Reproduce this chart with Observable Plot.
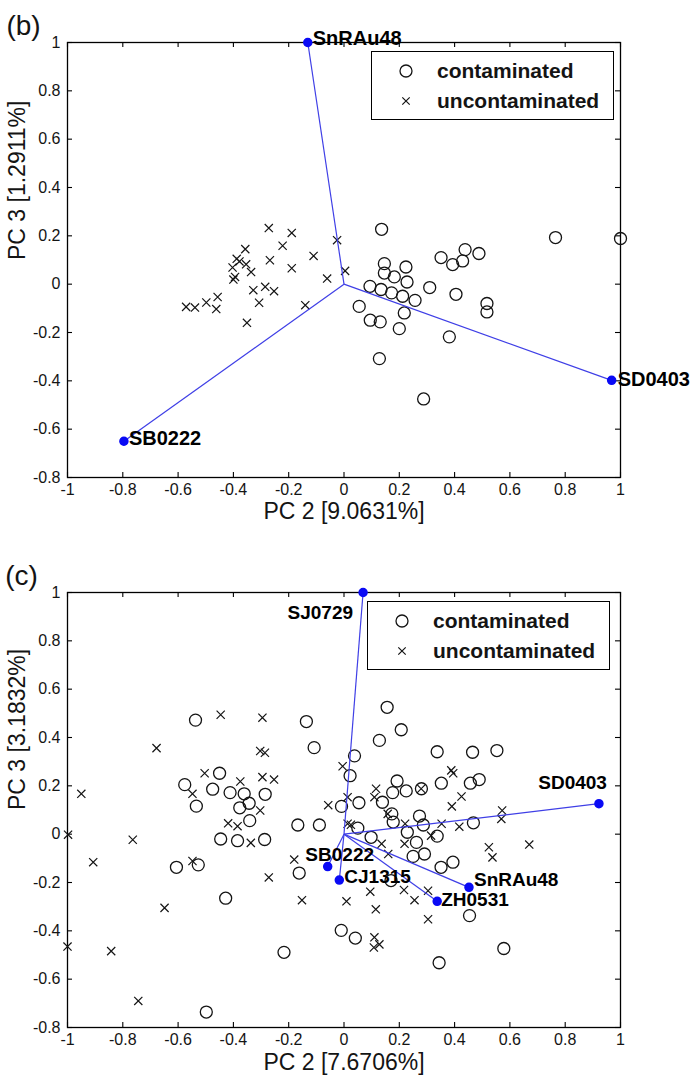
<!DOCTYPE html>
<html><head><meta charset="utf-8">
<script src="https://cdn.jsdelivr.net/npm/d3@7"></script>
<script src="https://cdn.jsdelivr.net/npm/@observablehq/plot@0.6"></script>
<style>
body{margin:0;background:#fff;font-family:"Liberation Sans",Arial,sans-serif;}
.panel{position:relative;width:694px;}
.legend{position:absolute;background:#fff;border:1.3px solid #000;box-sizing:border-box;width:243px;height:69px;}
.legend svg{display:block;}
g[aria-label="loading-label"] text{letter-spacing:0.2px;}
</style></head><body>
<div id="b" class="panel"></div>
<div id="c" class="panel"></div>
<script>
// ---------- shared axes ----------
const xTicks = [-1, -0.8, -0.6, -0.4, -0.2, 0, 0.2, 0.4, 0.6, 0.8, 1];
const yTicks = [-0.8, -0.6, -0.4, -0.2, 0, 0.2, 0.4, 0.6, 0.8, 1];
const seriesNames = ["contaminated", "uncontaminated"];

// ---------- panel (b) ----------
const bTag = "(b)";
const bXLabel = "PC 2 [9.0631%]";
const bYLabel = "PC 3 [1.2911%]";
const bContaminated = [
  [0.136,0.227],[0.146,0.085],[0.224,0.071],[0.146,0.046],[0.182,0.030],[0.228,0.009],
  [0.094,-0.009],[0.134,-0.022],[0.172,-0.036],[0.212,-0.050],[0.257,-0.067],[0.310,-0.014],
  [0.405,-0.042],[0.055,-0.092],[0.218,-0.119],[0.095,-0.149],[0.131,-0.156],[0.200,-0.184],
  [0.381,-0.218],[0.128,-0.308],[0.288,-0.475],[0.351,0.110],[0.393,0.081],[0.429,0.096],
  [0.438,0.143],[0.488,0.127],[0.517,-0.080],[0.517,-0.115],[0.765,0.193],[1.000,0.189]
];
const bUncontaminated = [
  [-0.272,0.232],[-0.189,0.212],[-0.222,0.159],[-0.025,0.182],[-0.110,0.117],[-0.357,0.145],
  [-0.268,0.099],[-0.388,0.105],[-0.378,0.094],[-0.354,0.082],[-0.403,0.069],[-0.336,0.050],
  [-0.394,0.030],[-0.400,0.019],[-0.189,0.066],[0.004,0.055],[-0.061,0.023],[-0.328,-0.025],
  [-0.285,-0.011],[-0.253,-0.029],[-0.307,-0.077],[-0.457,-0.053],[-0.498,-0.076],[-0.462,-0.103],
  [-0.571,-0.094],[-0.539,-0.097],[-0.351,-0.160],[-0.140,-0.087]
];
const bLoadingNames = ["SnRAu48", "SD0403", "SB0222"];
const bLoadingX = [-0.131, 0.968, -0.796];
const bLoadingY = [1.0, -0.398, -0.650];

// ---------- panel (c) ----------
const cTag = "(c)";
const cXLabel = "PC 2 [7.6706%]";
const cYLabel = "PC 3 [3.1832%]";
const cContaminated = [
  [-0.537,0.472],[-0.136,0.466],[-0.108,0.358],[0.156,0.525],[0.207,0.432],[0.128,0.388],
  [0.038,0.324],[0.022,0.242],[0.337,0.341],[0.465,0.339],[0.553,0.346],[-0.450,0.252],
  [-0.576,0.205],[-0.475,0.186],[-0.412,0.172],[-0.361,0.167],[-0.343,0.128],[-0.377,0.109],
  [-0.534,0.116],[-0.285,0.165],[-0.341,0.056],[-0.446,-0.020],[-0.385,-0.027],[-0.287,-0.022],
  [-0.167,0.038],[-0.089,0.038],[-0.009,0.115],[0.054,0.130],[0.192,0.220],[0.176,0.172],
  [0.225,0.179],[0.280,0.188],[0.352,0.211],[0.457,0.211],[0.489,0.226],[0.139,0.132],
  [0.173,0.084],[0.178,0.050],[0.273,0.075],[0.287,0.038],[0.337,-0.008],[0.229,0.008],
  [0.050,0.025],[0.098,-0.013],[0.262,-0.034],[0.250,-0.092],[0.291,-0.082],[0.351,-0.137],
  [0.394,-0.116],[0.170,-0.192],[0.468,0.047],[0.454,-0.337],[0.578,-0.473],[0.344,-0.532],
  [-0.010,-0.398],[0.041,-0.430],[-0.217,-0.489],[-0.162,-0.161],[-0.428,-0.265],[-0.606,-0.137],
  [-0.527,-0.127],[-0.498,-0.736]
];
const cUncontaminated = [
  [-0.950,0.167],[-0.678,0.356],[-0.446,0.494],[-0.295,0.482],[-0.303,0.344],[-0.286,0.337],
  [-0.504,0.252],[-0.548,0.167],[-0.375,0.218],[-0.295,0.236],[-0.253,0.226],[-0.303,0.098],
  [-0.419,0.045],[-0.385,0.033],[-0.337,-0.036],[-0.998,-0.002],[-0.764,-0.023],[-0.907,-0.116],
  [-0.548,-0.111],[-0.272,-0.179],[-0.649,-0.305],[-1.000,-0.465],[-0.842,-0.484],[-0.744,-0.690],
  [-0.180,-0.105],[-0.152,-0.273],[0.009,-0.278],[0.095,-0.238],[0.115,-0.311],[0.110,-0.427],
  [0.128,-0.456],[0.108,-0.469],[0.304,-0.352],[0.255,-0.273],[0.217,-0.231],[0.304,-0.234],
  [0.524,-0.054],[0.537,-0.096],[0.670,-0.043],[0.572,0.098],[0.569,0.063],[0.390,0.115],
  [0.425,0.156],[0.417,0.031],[0.353,0.043],[0.388,0.264],[0.395,0.252],[-0.005,0.281],
  [-0.057,0.120],[0.116,0.188],[0.110,0.153],[0.013,0.153],[0.013,0.043],[0.025,0.039],
  [0.279,0.188],[0.158,0.084],[0.221,0.043],[0.136,-0.040],[0.160,-0.082],[0.219,-0.040],
  [0.315,-0.006]
];
const cLoadingNames = ["SJ0729", "SD0403", "SnRAu48", "ZH0531", "SB0222", "CJ1315"];
const cLoadingX = [0.069, 0.922, 0.452, 0.337, -0.059, -0.017];
const cLoadingY = [1.0, 0.126, -0.220, -0.278, -0.134, -0.190];

// ---------- styling (label placement per loading) ----------
const bLabelStyle = {
  SnRAu48: {dx: 5, dy: -4, anchor: "start"},
  SD0403: {dx: 6, dy: -1, anchor: "start"},
  SB0222: {dx: 5, dy: -3, anchor: "start"}
};
const cLabelStyle = {
  SJ0729: {dx: -10, dy: 20, anchor: "end"},
  SD0403: {dx: 8, dy: -21, anchor: "end"},
  SnRAu48: {dx: 5, dy: -7, anchor: "start"},
  ZH0531: {dx: 4, dy: -1, anchor: "start"},
  SB0222: {dx: 12, dy: -12, anchor: "middle"},
  CJ1315: {dx: 5, dy: -3, anchor: "start"}
};

const BLUE_LINE = "#3f3fe6";
const BLUE_DOT = "#0a0af5";
const INK = "#141414";

function drawPanel(el, cfg) {
  const W = 694, mL = 67, mR = 74;
  const {height, marginTop, marginBottom} = cfg;
  const plotH = height - marginTop - marginBottom;
  const plotW = W - mL - mR;
  const tk = 5;
  const load = cfg.names.map((n, i) => ({name: n, x: cfg.lx[i], y: cfg.ly[i]}));
  const cont = cfg.cont.map(([x, y]) => ({x, y}));
  const unc = cfg.unc.map(([x, y]) => ({x, y}));
  const fmt = d => String(d);
  const marks = [
    Plot.frame({stroke: "#000", strokeWidth: 1.3}),
    Plot.tickX(xTicks, {x: d => d, insetTop: plotH - tk, stroke: "#000", strokeWidth: 1.1}),
    Plot.tickX(xTicks, {x: d => d, insetBottom: plotH - tk, stroke: "#000", strokeWidth: 1.1}),
    Plot.tickY(yTicks, {y: d => d, insetRight: plotW - tk, stroke: "#000", strokeWidth: 1.1}),
    Plot.tickY(yTicks, {y: d => d, insetLeft: plotW - tk, stroke: "#000", strokeWidth: 1.1}),
    Plot.axisX(xTicks, {tickSize: 0, tickPadding: 6, tickFormat: fmt, fontSize: 16, label: null, fill: INK}),
    Plot.axisY(yTicks, {tickSize: 0, tickPadding: 7, tickFormat: fmt, fontSize: 16, label: null, fill: INK}),
    Plot.text([cfg.xLabel], {text: d => d, frameAnchor: "bottom", dy: cfg.xLabelDy, fontSize: 23, fill: INK}),
    Plot.text([cfg.yLabel], {text: d => d, frameAnchor: "left", dx: -50, rotate: -90, fontSize: 23, fill: INK}),
    Plot.text([cfg.tag], {text: d => d, frameAnchor: "top-left", dx: cfg.tagDx, dy: cfg.tagDy, fontSize: 28, textAnchor: "middle", fill: INK}),
    Plot.dot(cont, {x: "x", y: "y", r: 6, stroke: INK, strokeWidth: 1.3, fill: "none"}),
    Plot.dot(unc, {x: "x", y: "y", r: 3.8, symbol: "times", stroke: INK, strokeWidth: 1.2}),
    Plot.link(load, {x1: 0, y1: 0, x2: "x", y2: "y", stroke: BLUE_LINE, strokeWidth: 1.2}),
    Plot.dot(load, {x: "x", y: "y", r: 4, fill: BLUE_DOT, stroke: BLUE_DOT})
  ];
  for (const d of load) {
    const s = cfg.labelStyle[d.name];
    marks.push(Plot.text([d], {x: "x", y: "y", text: "name", dx: s.dx, dy: s.dy, textAnchor: s.anchor,
      fontSize: cfg.loadFont, fontWeight: "bold", fill: "#000", ariaLabel: "loading-label"}));
  }
  const chart = Plot.plot({
    width: W, height, marginLeft: mL, marginRight: mR, marginTop, marginBottom,
    x: {domain: [-1, 1]},
    y: {domain: [-0.8, 1]},
    style: {fontFamily: '"Liberation Sans", Arial, sans-serif', background: "#fff", overflow: "visible"},
    marks
  });
  el.appendChild(chart);

  // legend (inside the frame, top-right)
  const lg = document.createElement("div");
  lg.className = "legend";
  lg.style.left = cfg.legendLeft + "px";
  lg.style.top = cfg.legendTop + "px";
  const ns = "http://www.w3.org/2000/svg";
  const svg = document.createElementNS(ns, "svg");
  svg.setAttribute("width", 241); svg.setAttribute("height", 67);
  seriesNames.forEach((name, i) => {
    const cy = 19 + i * 30;
    if (i === 0) {
      const c = document.createElementNS(ns, "circle");
      c.setAttribute("cx", 34); c.setAttribute("cy", cy); c.setAttribute("r", 6);
      c.setAttribute("fill", "none"); c.setAttribute("stroke", INK); c.setAttribute("stroke-width", 1.3);
      svg.appendChild(c);
    } else {
      const p = document.createElementNS(ns, "path");
      const r = 3.7;
      p.setAttribute("d", `M${34-r},${cy-r}L${34+r},${cy+r}M${34-r},${cy+r}L${34+r},${cy-r}`);
      p.setAttribute("stroke", INK); p.setAttribute("stroke-width", 1.2);
      svg.appendChild(p);
    }
    const t = document.createElementNS(ns, "text");
    t.setAttribute("x", 65); t.setAttribute("y", cy);
    t.setAttribute("dy", "0.35em");
    t.setAttribute("font-size", 21); t.setAttribute("font-weight", "bold");
    t.setAttribute("fill", INK);
    t.setAttribute("font-family", '"Liberation Sans", Arial, sans-serif');
    t.textContent = name;
    svg.appendChild(t);
  });
  lg.appendChild(svg);
  el.appendChild(lg);
}

drawPanel(document.getElementById("b"), {
  height: 540, marginTop: 42, marginBottom: 63,
  tag: bTag, tagDx: -44, tagDy: -27, xLabelDy: 41, loadFont: 20,
  xLabel: bXLabel, yLabel: bYLabel,
  cont: bContaminated, unc: bUncontaminated,
  names: bLoadingNames, lx: bLoadingX, ly: bLoadingY, labelStyle: bLabelStyle,
  legendLeft: 371, legendTop: 51
});
drawPanel(document.getElementById("c"), {
  height: 541, marginTop: 52, marginBottom: 54,
  tag: cTag, tagDx: -46, tagDy: -27, xLabelDy: 42, loadFont: 19,
  xLabel: cXLabel, yLabel: cYLabel,
  cont: cContaminated, unc: cUncontaminated,
  names: cLoadingNames, lx: cLoadingX, ly: cLoadingY, labelStyle: cLabelStyle,
  legendLeft: 367, legendTop: 61
});
</script>
</body></html>
